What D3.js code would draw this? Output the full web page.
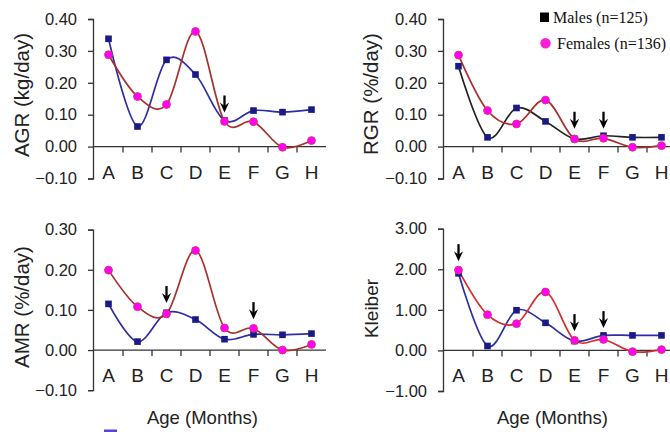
<!DOCTYPE html>
<html lang="en">
<head>
<meta charset="UTF-8">
<title>Growth rates by age</title>
<script src="https://d3js.org/d3.v7.min.js"></script>
<style>
    body { margin: 0; background: #fff; }
    svg { display: block; font-family: "Liberation Sans", Arial, sans-serif; }
</style>
</head>
<body>
<div id="chart"></div>
<script>
    var categories = ["A", "B", "C", "D", "E", "F", "G", "H"];

    var agrMale = [0.338, 0.063, 0.272, 0.226, 0.082, 0.113, 0.108, 0.116];
    var agrFemale = [0.288, 0.157, 0.132, 0.361, 0.079, 0.078, -0.002, 0.019];
    var rgrMale = [0.252, 0.029, 0.121, 0.079, 0.024, 0.034, 0.029, 0.029];
    var rgrFemale = [0.287, 0.113, 0.071, 0.146, 0.024, 0.026, -0.002, 0.003];
    var amrMale = [0.115, 0.021, 0.093, 0.076, 0.027, 0.039, 0.038, 0.041];
    var amrFemale = [0.199, 0.108, 0.090, 0.248, 0.055, 0.054, 0.000, 0.014];
    var kleiberMale = [1.90, 0.11, 0.99, 0.68, 0.23, 0.37, 0.37, 0.37];
    var kleiberFemale = [1.98, 0.88, 0.66, 1.44, 0.25, 0.27, -0.03, 0.02];

    // arrows: category and value at the arrow tip
    var agrArrows = [{ cat: "E", v: 0.107 }];
    var rgrArrows = [{ cat: "E", v: 0.056 }, { cat: "F", v: 0.056 }];
    var amrArrows = [{ cat: "C", v: 0.117 }, { cat: "F", v: 0.077 }];
    var kleiberArrows = [{ cat: "A", v: 2.20 }, { cat: "E", v: 0.475 }, { cat: "F", v: 0.55 }];

    var rateTicks = [-0.1, 0, 0.1, 0.2, 0.3, 0.4];
    var amrTicks = [-0.1, 0, 0.1, 0.2, 0.3];
    var kleiberTicks = [-1, 0, 1, 2, 3];

    var legendLabels = ["Males (n=125)", "Females (n=136)"];
    var xTitle = "Age (Months)";

    var w = 670,
        h = 432;

    var panels = [
        { title: "AGR (kg/day)", male: agrMale, female: agrFemale, ticks: rateTicks, arrows: agrArrows,
          left: 93, right: 326, bottom: 178.5, top: 19, titleX: 28.5, titleY: 95, titleSize: 20.5,
          maleLine: "#2d2da6", femaleLine: "#a8302c", legend: false, xTitle: false },
        { title: "RGR (%/day)", male: rgrMale, female: rgrFemale, ticks: rateTicks, arrows: rgrArrows,
          left: 443, right: 676, bottom: 178.5, top: 19, titleX: 378, titleY: 94, titleSize: 20.5,
          maleLine: "#222222", femaleLine: "#a8302c", legend: true, xTitle: false },
        { title: "AMR (%/day)", male: amrMale, female: amrFemale, ticks: amrTicks, arrows: amrArrows,
          left: 93, right: 326, bottom: 390.2, top: 229.6, titleX: 28.5, titleY: 307, titleSize: 20.5,
          maleLine: "#2d2da6", femaleLine: "#a8302c", legend: false, xTitle: true },
        { title: "Kleiber", male: kleiberMale, female: kleiberFemale, ticks: kleiberTicks, arrows: kleiberArrows,
          left: 443, right: 676, bottom: 391, top: 228.7, titleX: 378, titleY: 308.5, titleSize: 19,
          maleLine: "#2d2da6", femaleLine: "#d42b2b", legend: false, xTitle: true }
    ];

    var svg = d3.select("#chart").append("svg")
        .attr("width", w)
        .attr("height", h);

    panels.forEach(drawPanel);

    // bit of a cut-off legend at the bottom edge
    svg.append("rect")
        .attr("x", 104).attr("y", 429.5)
        .attr("width", 13).attr("height", 3)
        .attr("fill", "#5a44d4");

    function drawPanel(p) {
        var g = svg.append("g");

        var x = d3.scaleBand()
            .domain(categories)
            .range([p.left + 1, p.right]);

        var y = d3.scaleLinear()
            .domain(d3.extent(p.ticks))
            .range([p.bottom, p.top]);

        var cx = function(c) { return x(c) + x.bandwidth() / 2; };

        // y axis
        var ya = g.append("g")
            .attr("transform", "translate(" + p.left + ",0)")
            .call(d3.axisLeft(y)
                .tickValues(p.ticks)
                .tickSize(5)
                .tickPadding(11)
                .tickFormat(d3.format(".2f")));
        ya.attr("font-family", null).attr("font-size", null);
        ya.selectAll("path, line").attr("stroke", "#333").attr("stroke-width", 1.3);
        ya.selectAll("text").attr("font-size", 16.5).attr("fill", "#222");

        // x axis on zero line
        var y0 = y(0);
        g.append("line")
            .attr("x1", p.left).attr("x2", p.right)
            .attr("y1", y0).attr("y2", y0)
            .attr("stroke", "#333").attr("stroke-width", 1.3);

        g.selectAll(".xtick")
            .data(categories.slice(1))
            .enter().append("line")
            .attr("x1", function(d) { return x(d); })
            .attr("x2", function(d) { return x(d); })
            .attr("y1", y0).attr("y2", y0 + 6)
            .attr("stroke", "#333").attr("stroke-width", 1.3);

        g.selectAll(".xlab")
            .data(categories)
            .enter().append("text")
            .attr("x", cx)
            .attr("y", y0 + 32)
            .attr("text-anchor", "middle")
            .attr("font-size", 19)
            .attr("fill", "#222")
            .text(function(d) { return d; });

        // y title
        g.append("text")
            .attr("transform", "translate(" + p.titleX + "," + p.titleY + ") rotate(-90)")
            .attr("text-anchor", "middle")
            .attr("font-size", p.titleSize)
            .attr("fill", "#222")
            .text(p.title);

        if (p.xTitle) {
            g.append("text")
                .attr("x", (p.left + p.right) / 2 - 7)
                .attr("y", 424)
                .attr("text-anchor", "middle")
                .attr("font-size", 18.5)
                .attr("fill", "#222")
                .text(xTitle);
        }

        var line = d3.line()
            .x(function(d, i) { return cx(categories[i]); })
            .y(function(d) { return y(d); })
            .curve(d3.curveCardinal.tension(0));

        g.append("path")
            .attr("d", line(p.male))
            .attr("fill", "none")
            .attr("stroke", p.maleLine)
            .attr("stroke-width", 1.7);

        g.append("path")
            .attr("d", line(p.female))
            .attr("fill", "none")
            .attr("stroke", p.femaleLine)
            .attr("stroke-width", 1.7);

        g.selectAll(".sq")
            .data(p.male)
            .enter().append("rect")
            .attr("x", function(d, i) { return cx(categories[i]) - 3.3; })
            .attr("y", function(d) { return y(d) - 3.3; })
            .attr("width", 6.6).attr("height", 6.6)
            .attr("fill", "#1a1a86");

        g.selectAll(".dot")
            .data(p.female)
            .enter().append("circle")
            .attr("cx", function(d, i) { return cx(categories[i]); })
            .attr("cy", function(d) { return y(d); })
            .attr("r", 3.9)
            .attr("fill", "#ff00ff")
            .attr("stroke", "#e2306a")
            .attr("stroke-width", 1);

        // arrows
        p.arrows.forEach(function(a) {
            var ax = cx(a.cat),
                ay = y(a.v);
            g.append("line")
                .attr("x1", ax).attr("x2", ax)
                .attr("y1", ay - 17).attr("y2", ay - 5)
                .attr("stroke", "#000").attr("stroke-width", 2.3);
            g.append("path")
                .attr("d", "M" + ax + "," + ay +
                    "L" + (ax - 4.6) + "," + (ay - 10) +
                    "L" + ax + "," + (ay - 6.5) +
                    "L" + (ax + 4.6) + "," + (ay - 10) + "Z")
                .attr("fill", "#000");
        });

        if (p.legend) {
            var lg = g.append("g").attr("font-family", "'Liberation Serif', 'Times New Roman', serif")
                .attr("font-size", 16).attr("fill", "#111");
            lg.append("rect")
                .attr("x", 540).attr("y", 12.5)
                .attr("width", 9).attr("height", 9.5)
                .attr("fill", "#000");
            lg.append("text").attr("x", 553).attr("y", 22.5).text(legendLabels[0]);
            lg.append("circle")
                .attr("cx", 545.5).attr("cy", 43.3).attr("r", 5.2)
                .attr("fill", "#ff1fd6");
            lg.append("text").attr("x", 557).attr("y", 48.5).text(legendLabels[1]);
        }
    }
</script>
</body>
</html>
